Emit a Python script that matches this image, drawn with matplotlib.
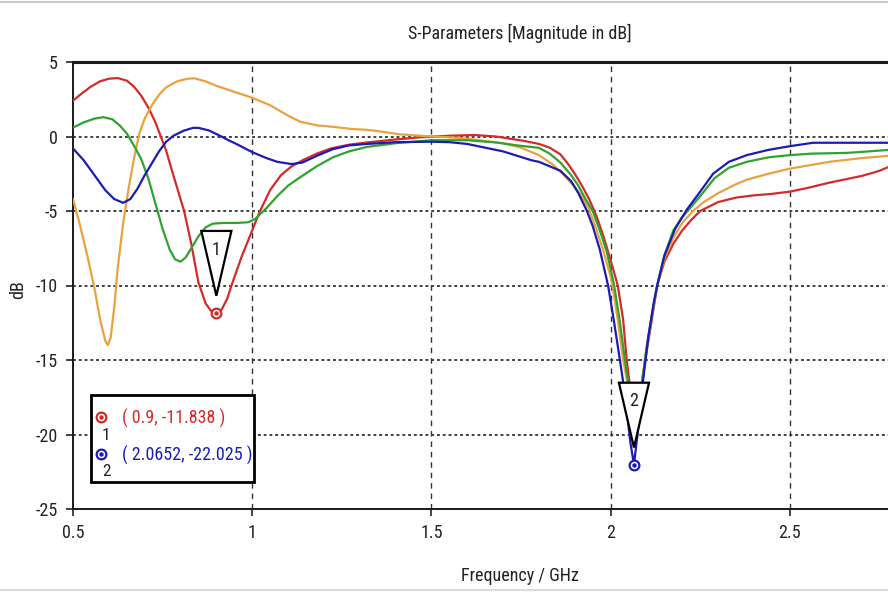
import matplotlib
matplotlib.use("Agg")
import matplotlib.pyplot as plt
from matplotlib.patches import Polygon, Rectangle
from matplotlib.lines import Line2D

plt.rcParams['font.family'] = ['Roboto Condensed', 'Liberation Sans Narrow', 'Liberation Sans', 'DejaVu Sans']
plt.rcParams['font.stretch'] = 'condensed'

# ---- S-parameter traces (frequency in GHz, magnitude in dB) ----
red_f = [0.50, 0.525, 0.55, 0.575, 0.60, 0.625, 0.65, 0.67, 0.69, 0.71, 0.73, 0.745,
         0.76, 0.775, 0.79, 0.81, 0.83, 0.85, 0.87, 0.885, 0.90, 0.915, 0.93, 0.945,
         0.97, 1.00, 1.02, 1.05, 1.08, 1.11, 1.14, 1.18, 1.22, 1.27, 1.32, 1.40, 1.47,
         1.55, 1.62, 1.68, 1.72, 1.76, 1.80, 1.83, 1.86, 1.88, 1.90, 1.92, 1.94, 1.96,
         1.98, 2.00, 2.02, 2.035, 2.045, 2.055, 2.07, 2.085, 2.10, 2.115, 2.13, 2.15,
         2.175, 2.20, 2.225, 2.25, 2.30, 2.35, 2.40, 2.45, 2.50, 2.55, 2.61, 2.66,
         2.70, 2.73, 2.75, 2.775]
red_db = [2.4, 2.9, 3.35, 3.7, 3.88, 3.92, 3.75, 3.35, 2.75, 1.95, 0.95, 0.0,
          -0.95, -2.2, -3.4, -5.0, -7.2, -9.8, -11.2, -11.7, -11.838, -11.6, -10.9, -9.8,
          -8.1, -6.3, -5.1, -3.6, -2.6, -2.0, -1.6, -1.15, -0.8, -0.55, -0.4, -0.2, -0.05,
          0.05, 0.1, 0.0, -0.15, -0.3, -0.5, -0.75, -1.2, -1.8, -2.5, -3.3, -4.2, -5.3,
          -6.7, -8.3, -10.0, -12.3, -15.0, -17.0, -18.8, -17.0, -14.5, -12.3, -10.0, -8.4,
          -7.2, -6.3, -5.6, -5.0, -4.4, -4.1, -3.95, -3.85, -3.7, -3.45, -3.1, -2.85,
          -2.65, -2.45, -2.3, -2.05]

orange_f = [0.50, 0.52, 0.54, 0.56, 0.575, 0.59, 0.597, 0.605, 0.615, 0.625, 0.64, 0.655,
            0.67, 0.685, 0.70, 0.72, 0.74, 0.76, 0.79, 0.82, 0.84, 0.87, 0.90, 0.95,
            1.00, 1.05, 1.10, 1.133, 1.18, 1.225, 1.28, 1.32, 1.37, 1.41, 1.50, 1.55,
            1.60, 1.65, 1.70, 1.75, 1.80, 1.84, 1.87, 1.90, 1.92, 1.94, 1.96, 1.98,
            2.00, 2.005, 2.02, 2.035, 2.055, 2.075, 2.09, 2.10, 2.115, 2.13, 2.15, 2.175,
            2.20, 2.23, 2.26, 2.30, 2.35, 2.38, 2.44, 2.50, 2.55, 2.61, 2.70, 2.775]
orange_db = [-4.2, -6.0, -8.0, -10.2, -12.2, -13.7, -14.0, -13.5, -11.5, -8.8, -5.8, -3.5,
             -1.5, 0.2, 1.2, 2.1, 2.8, 3.3, 3.7, 3.88, 3.9, 3.7, 3.4, 3.0,
             2.6, 2.1, 1.4, 1.0, 0.75, 0.65, 0.5, 0.45, 0.3, 0.15, 0.0, -0.05,
             -0.15, -0.3, -0.45, -0.75, -1.25, -1.9, -2.6, -3.4, -4.0, -4.9, -6.2, -7.7,
             -9.4, -10.0, -12.3, -15.0, -17.6, -18.5, -16.0, -14.3, -12.0, -10.0, -8.2, -6.8,
             -5.8, -5.0, -4.4, -3.8, -3.2, -2.9, -2.5, -2.16, -1.95, -1.7, -1.45, -1.3]

green_f = [0.50, 0.53, 0.56, 0.585, 0.61, 0.63, 0.65, 0.67, 0.69, 0.71, 0.73, 0.75,
           0.77, 0.785, 0.80, 0.815, 0.83, 0.85, 0.87, 0.89, 0.92, 0.96, 0.99, 1.01,
           1.04, 1.07, 1.10, 1.133, 1.18, 1.225, 1.27, 1.32, 1.40, 1.50, 1.60, 1.68,
           1.74, 1.80, 1.83, 1.86, 1.89, 1.91, 1.93, 1.95, 1.97, 1.99, 2.01, 2.025,
           2.04, 2.055, 2.07, 2.085, 2.10, 2.115, 2.13, 2.15, 2.175, 2.20, 2.215, 2.25,
           2.29, 2.33, 2.38, 2.44, 2.50, 2.56, 2.66, 2.72, 2.775]
green_db = [0.6, 0.95, 1.2, 1.3, 1.15, 0.75, 0.2, -0.6, -1.5, -2.8, -4.5, -6.2,
            -7.6, -8.25, -8.4, -8.1, -7.5, -6.7, -6.1, -5.85, -5.8, -5.8, -5.75, -5.5,
            -4.8, -4.0, -3.3, -2.75, -2.0, -1.4, -1.0, -0.7, -0.45, -0.25, -0.25, -0.4,
            -0.6, -0.76, -1.15, -1.75, -2.6, -3.3, -4.2, -5.0, -6.3, -7.8, -10.0, -12.3,
            -15.0, -17.5, -19.2, -17.0, -14.2, -12.0, -10.0, -8.0, -6.3, -5.4, -5.0, -4.0,
            -2.8, -2.1, -1.7, -1.4, -1.25, -1.15, -1.1, -1.0, -0.9]

blue_f = [0.50, 0.53, 0.56, 0.59, 0.615, 0.64, 0.66, 0.68, 0.70, 0.715, 0.74, 0.76,
          0.78, 0.81, 0.835, 0.85, 0.88, 0.91, 0.93, 0.96, 1.00, 1.04, 1.07, 1.11,
          1.14, 1.18, 1.225, 1.27, 1.32, 1.40, 1.50, 1.55, 1.60, 1.65, 1.70, 1.74,
          1.78, 1.80, 1.86, 1.89, 1.91, 1.934, 1.95, 1.97, 1.993, 2.01, 2.026, 2.04,
          2.055, 2.0652, 2.075, 2.09, 2.105, 2.12, 2.13, 2.15, 2.18, 2.213, 2.25, 2.286,
          2.33, 2.38, 2.44, 2.50, 2.565, 2.65, 2.775]
blue_db = [-0.8, -1.6, -2.6, -3.6, -4.2, -4.45, -4.2, -3.5, -2.6, -2.0, -1.0, -0.35,
           0.05, 0.4, 0.58, 0.58, 0.4, 0.05, -0.2, -0.55, -1.05, -1.45, -1.7, -1.85,
           -1.75, -1.3, -0.85, -0.6, -0.5, -0.38, -0.35, -0.38, -0.5, -0.75, -1.0, -1.3,
           -1.6, -1.7, -2.3, -3.0, -3.8, -5.0, -6.0, -7.6, -10.0, -12.5, -15.0, -17.3,
           -20.5, -22.025, -20.0, -16.5, -13.5, -11.2, -10.0, -8.0, -6.2, -4.9, -3.7, -2.5,
           -1.7, -1.25, -0.9, -0.65, -0.42, -0.42, -0.42]

# ---- markers (frequency, value, trace colour) ----
marker_ids = ["1", "2"]
marker_f = [0.9, 2.0652]
marker_db = [-11.838, -22.025]
marker_colors = ["#d42a2a", "#1c1cb4"]

x_ticks = [0.5, 1, 1.5, 2, 2.5]
x_tick_labels = ["0.5", "1", "1.5", "2", "2.5"]
y_ticks = [5, 0, -5, -10, -15, -20, -25]
y_tick_labels = ["5", "0", "-5", "-10", "-15", "-20", "-25"]

TXT = '#222222'
FS = 13

fig = plt.figure(figsize=(8.88, 5.93), dpi=100)
ax = fig.add_axes([73 / 888, 1 - 509 / 593, 1 - 73 / 888, (509 - 62) / 593])

traces = [
    (red_f, red_db, "#d42a2a"),
    (orange_f, orange_db, "#e9a23e"),
    (green_f, green_db, "#2ea32e"),
    (blue_f, blue_db, "#1c1cb4"),
]
for fx, dbv, col in traces:
    ax.plot(fx, dbv, color=col, lw=1.6, zorder=3, solid_joinstyle='round')

ax.set_xlim(0.5, 0.5 + 815 / 358.4)
ax.set_ylim(-25, 5)
ax.set_xticks(x_ticks)
ax.set_xticklabels(x_tick_labels)
ax.set_yticks(y_ticks)
ax.set_yticklabels(y_tick_labels)
ax.tick_params(axis='both', direction='out', length=5, width=1.2, labelsize=FS,
               colors=TXT, pad=6)

# grid: dotted horizontals, dashed verticals
for yv in y_ticks[1:-1]:
    ax.axhline(yv, color='#333333', lw=1.3, ls=(0, (1.6, 1.6)), zorder=1)
for xv in x_ticks[1:]:
    ax.axvline(xv, color='#333333', lw=1.0, ls=(0, (4, 3.5)), zorder=1)

ax.spines['right'].set_visible(False)
ax.spines['left'].set_linewidth(1.4)
ax.spines['bottom'].set_linewidth(1.4)
ax.spines['top'].set_linewidth(2.2)
for s in ax.spines.values():
    s.set_color('#1a1a1a')

ax.set_xlabel("Frequency / GHz", fontsize=FS, color=TXT)
ax.xaxis.set_label_coords((520 - 73) / 815, -(575 - 509) / 447, transform=None) if False else None
ax.xaxis.set_label_coords((520 - 73) / 815, -(576 - 509) / 447)
ax.xaxis.label.set_va('center')
ax.set_ylabel("dB", fontsize=FS, color=TXT)
ax.yaxis.set_label_coords(-(73 - 18) / 815, (509 - 290) / 447)
ax.yaxis.label.set_va('center')

fig.text(520 / 888, 1 - 33 / 593, "S-Parameters [Magnitude in dB]", ha='center',
         va='center', fontsize=FS, color=TXT)

# marker flags: inverted triangles above each marked point
half_w = 0.042
tip_gap = 1.15
flag_h = 4.35
for mid, mf, mv, mc in zip(marker_ids, marker_f, marker_db, marker_colors):
    tip = mv + tip_gap
    top = tip + flag_h
    tri = Polygon([[mf - half_w, top], [mf + half_w, top], [mf, tip]], closed=True,
                  facecolor='white', edgecolor='black', lw=1.6, zorder=5)
    ax.add_patch(tri)
    ax.text(mf, top - 1.25, mid, ha='center', va='center', fontsize=FS,
            color=TXT, zorder=6)
    ax.plot([mf], [mv], marker='o', ms=7, mfc='white', mec=mc, mew=1.6, zorder=6)
    ax.plot([mf], [mv], marker='o', ms=2.2, mfc=mc, mec=mc, zorder=7)

# marker readout box
box = Rectangle((18 / 815, 27 / 447), 163 / 815, 87 / 447, transform=ax.transAxes,
                facecolor='white', edgecolor='black', lw=2.0, zorder=8)
ax.add_patch(box)
rows_y = [(509 - 417) / 447, (509 - 454) / 447]
for mid, mf, mv, mc, ry in zip(marker_ids, marker_f, marker_db, marker_colors, rows_y):
    ax.plot([28 / 815], [ry], marker='o', ms=7, mfc='white', mec=mc, mew=1.6,
            transform=ax.transAxes, zorder=9, clip_on=False)
    ax.plot([28 / 815], [ry], marker='o', ms=2.2, mfc=mc, mec=mc,
            transform=ax.transAxes, zorder=10, clip_on=False)
    ax.text(33 / 815, ry - 18 / 447, mid, transform=ax.transAxes, ha='center',
            va='center', fontsize=FS - 0.5, color=TXT, zorder=9)
    ax.text(49 / 815, ry - 1 / 447, f"( {mf:g}, {mv:g} )", transform=ax.transAxes,
            ha='left', va='center', fontsize=FS, color=mc, zorder=9)

# window frame lines
fig.add_artist(Line2D([0, 1], [1 - 2 / 593, 1 - 2 / 593], color='#c8c8c8', lw=1.5))
fig.add_artist(Line2D([0, 1], [3 / 593, 3 / 593], color='#dcdcdc', lw=1.5))

fig.savefig("out.png", dpi=100, facecolor='white')
